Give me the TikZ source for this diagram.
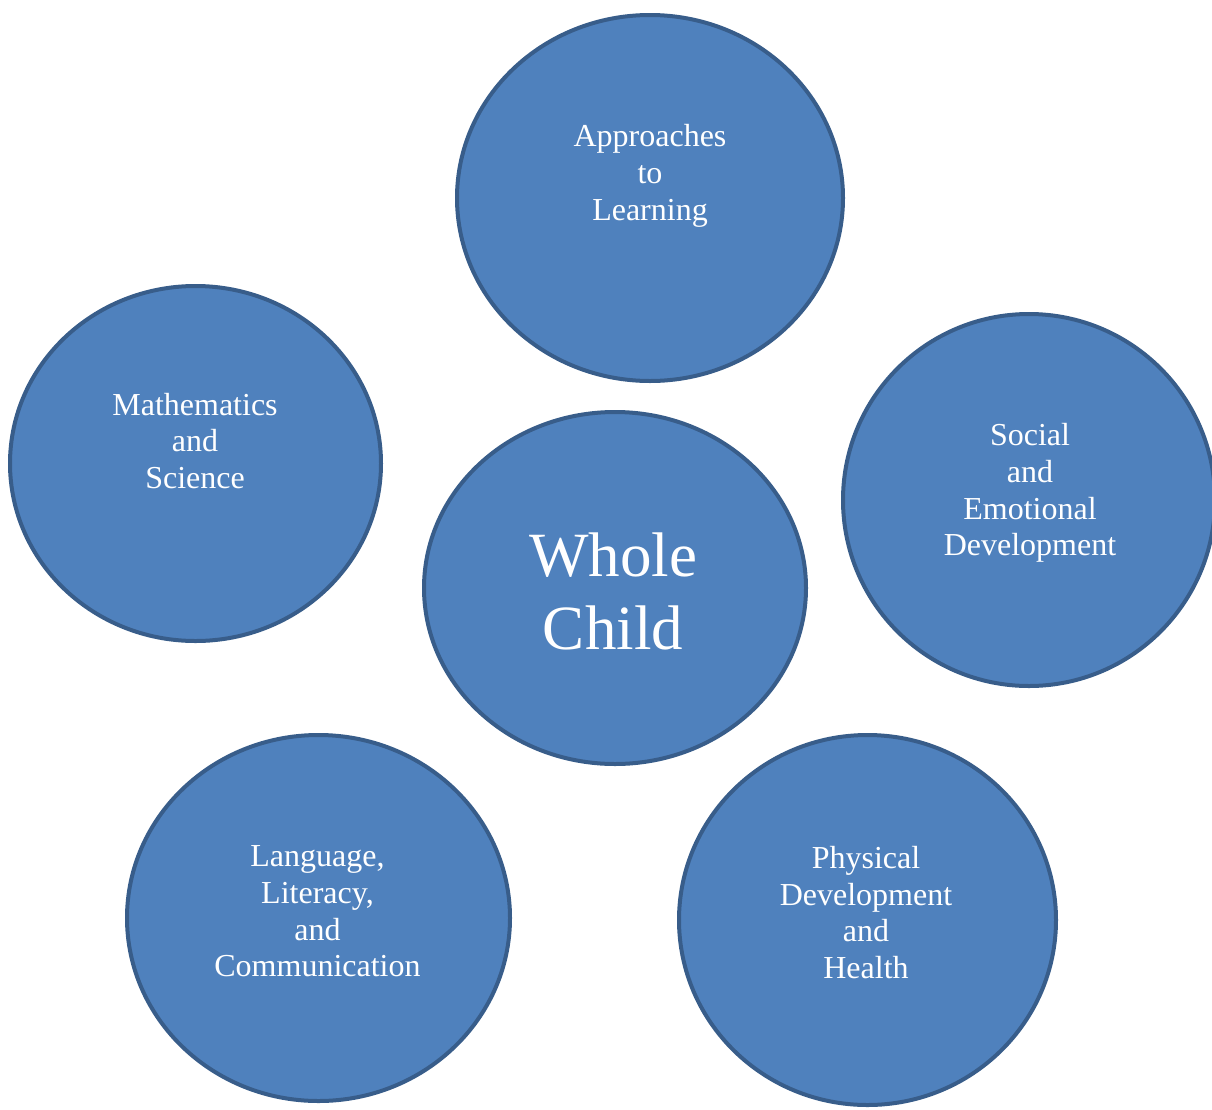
\documentclass[tikz,border=0pt]{standalone}
\usepackage{fontspec}
\setmainfont{Liberation Serif}
\usetikzlibrary{shapes.geometric}
\definecolor{bubblefill}{HTML}{4F81BD}
\definecolor{bubbleline}{HTML}{385D8A}
\begin{document}
\begin{tikzpicture}[x=1pt, y=-1pt, line join=round,
	bubble/.style={ellipse, draw=bubbleline, fill=bubblefill, line width=4pt, inner sep=0pt},
	lbl/.style={text=white, align=center, inner sep=0pt, font=\fontsize{32}{36.7}\selectfont},
	biglbl/.style={lbl, font=\fontsize{63}{73}\selectfont}]
	\useasboundingbox (0,0) rectangle (1212,1109);
	\node[bubble, minimum width=386pt, minimum height=366pt] (appr) at (650,198) {};
	\node[bubble, minimum width=371pt, minimum height=355pt] (math) at (195.5,463.5) {};
	\node[bubble, minimum width=382pt, minimum height=352pt] (whole) at (615,588) {};
	\node[bubble, minimum width=372pt, minimum height=372pt] (social) at (1029,500) {};
	\node[bubble, minimum width=383pt, minimum height=366pt] (lang) at (318.5,918) {};
	\node[bubble, minimum width=377pt, minimum height=370pt] (phys) at (867.5,920) {};
	% texts
	\node[lbl] (apprtxt) at (650,176) {Approaches\\to\\Learning};
	\node[lbl] (mathtxt) at (195,441) {Mathematics\\and\\Science};
	\node[biglbl] (wholetxt) at (613,591) {Whole\\Child};
	\node[lbl] (socialtxt) at (1030,493) {Social\\and\\Emotional\\Development};
	\node[lbl] (langtxt) at (317.5,911.5) {Language,\\Literacy,\\and\\Communication};
	\node[lbl] (phystxt) at (866,912.5) {Physical\\Development\\and\\Health};
\end{tikzpicture}
\end{document}
